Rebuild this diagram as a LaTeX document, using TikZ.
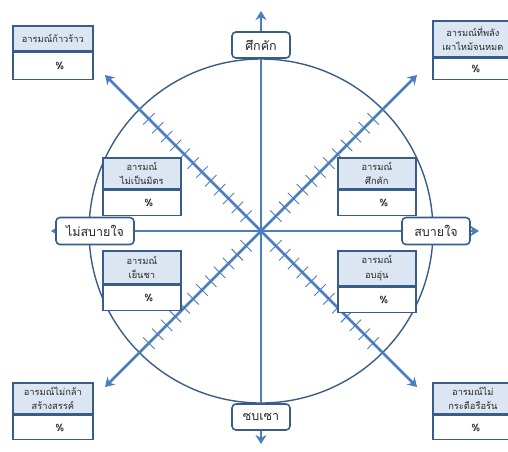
\documentclass[tikz,border=0pt]{standalone}
\usepackage{fontspec}
\newfontfamily\thai[Script=Thai]{Loma}
\usetikzlibrary{arrows.meta,calc}
\definecolor{axisblue}{RGB}{74,126,193}
\definecolor{edgeblue}{RGB}{56,93,138}
\definecolor{hdrfill}{RGB}{220,230,242}
\definecolor{inkgray}{RGB}{40,40,40}

\begin{document}
\begin{tikzpicture}[x=1pt,y=-1pt,
  axisline/.style={draw=axisblue, line width=2.6pt, {Stealth[length=9pt,width=11pt]}-{Stealth[length=9pt,width=11pt]}},
  tickline/.style={draw=axisblue, line width=0.9pt},
  ring/.style={draw=edgeblue, line width=1.4pt},
  pole/.style={draw=edgeblue, line width=1.6pt, fill=white, rounded corners=4pt,
    inner sep=0pt, text=inkgray, font=\thai\fontsize{12.5}{14}\selectfont},
  hdr/.style={draw=edgeblue, line width=1.7pt, fill=hdrfill, anchor=north west,
    inner sep=0pt, align=center, text=inkgray, font=\thai\fontsize{9.3}{14.5}\selectfont},
  bdy/.style={draw=edgeblue, line width=1.7pt, fill=white, anchor=north west,
    inner sep=0pt, text=inkgray, font=\thai\bfseries\fontsize{10}{12}\selectfont}]
\useasboundingbox (0,0) rectangle (508,451);

\coordinate (c) at (261,231);
\node[ring, circle, minimum size=344pt, inner sep=0pt] (ring) at (c) {};

% main axes
\coordinate (n) at (261,11);
\coordinate (s) at (261,444);
\coordinate (w) at (51,231);
\coordinate (e) at (479,231);
\draw[axisline] (s) -- (n);
\draw[axisline] (w) -- (e);

% diagonals
\coordinate (ne) at (417,75);
\coordinate (sw) at (105,387);
\coordinate (nw) at (105,75);
\coordinate (se) at (417,387);
\draw[axisline] (sw) -- (ne);
\draw[axisline] (nw) -- (se);

% scale ticks across the diagonals
\foreach \a in {45,135,225,315}{
  \foreach \r in {21,33.5,...,165}{
    \draw[tickline] ($(c)+(\a:\r)+(\a+90:8)$) -- ($(c)+(\a:\r)+(\a-90:8)$);
  }
}

% pole labels
\node[pole, minimum width=58pt, minimum height=26pt] (top) at (261,45) {ศึกคัก};
\node[pole, minimum width=58pt, minimum height=26pt] (bot) at (261,417) {ซบเซา};
\node[pole, minimum width=78pt, minimum height=27pt] (lft) at (95,231) {ไม่สบายใจ};
\node[pole, minimum width=68pt, minimum height=27pt] (rgt) at (436,231) {สบายใจ};

% corner boxes
\node[hdr, minimum width=80pt, minimum height=25pt] (h1) at (12,25) {อารมณ์ก้าวร้าว};
\node[bdy, minimum width=80pt, minimum height=27pt] (b1) at (h1.south west) {\hspace*{14pt}\%};

\node[hdr, minimum width=80pt, minimum height=36pt] (h2) at (432,20) {อารมณ์ที่พลัง\\เผาไหม้จนหมด};
\node[bdy, minimum width=80pt, minimum height=21pt] (b2) at (h2.south west) {\hspace*{6pt}\%};

\node[hdr, minimum width=80pt, minimum height=31pt] (h3) at (12,382) {อารมณ์ไม่กล้า\\สร้างสรรค์};
\node[bdy, minimum width=80pt, minimum height=24pt] (b3) at (h3.south west) {\hspace*{14pt}\%};

\node[hdr, minimum width=80pt, minimum height=31pt] (h4) at (432,382) {อารมณ์ไม่\\กระตือรือร้น};
\node[bdy, minimum width=80pt, minimum height=24pt] (b4) at (h4.south west) {\hspace*{6pt}\%};

% inner boxes
\node[hdr, minimum width=78pt, minimum height=31pt] (h5) at (102,157) {อารมณ์\\ไม่เป็นมิตร};
\node[bdy, minimum width=78pt, minimum height=25pt] (b5) at (h5.south west) {\hspace*{14pt}\%};

\node[hdr, minimum width=78pt, minimum height=31pt] (h6) at (337,157) {อารมณ์\\ศึกคัก};
\node[bdy, minimum width=78pt, minimum height=25pt] (b6) at (h6.south west) {\hspace*{14pt}\%};

\node[hdr, minimum width=78pt, minimum height=33pt] (h7) at (102,250) {อารมณ์\\เย็นชา};
\node[bdy, minimum width=78pt, minimum height=25pt] (b7) at (h7.south west) {\hspace*{14pt}\%};

\node[hdr, minimum width=78pt, minimum height=35pt] (h8) at (337,250) {อารมณ์\\อบอุ่น};
\node[bdy, minimum width=78pt, minimum height=25pt] (b8) at (h8.south west) {\hspace*{14pt}\%};
\end{tikzpicture}
\end{document}
